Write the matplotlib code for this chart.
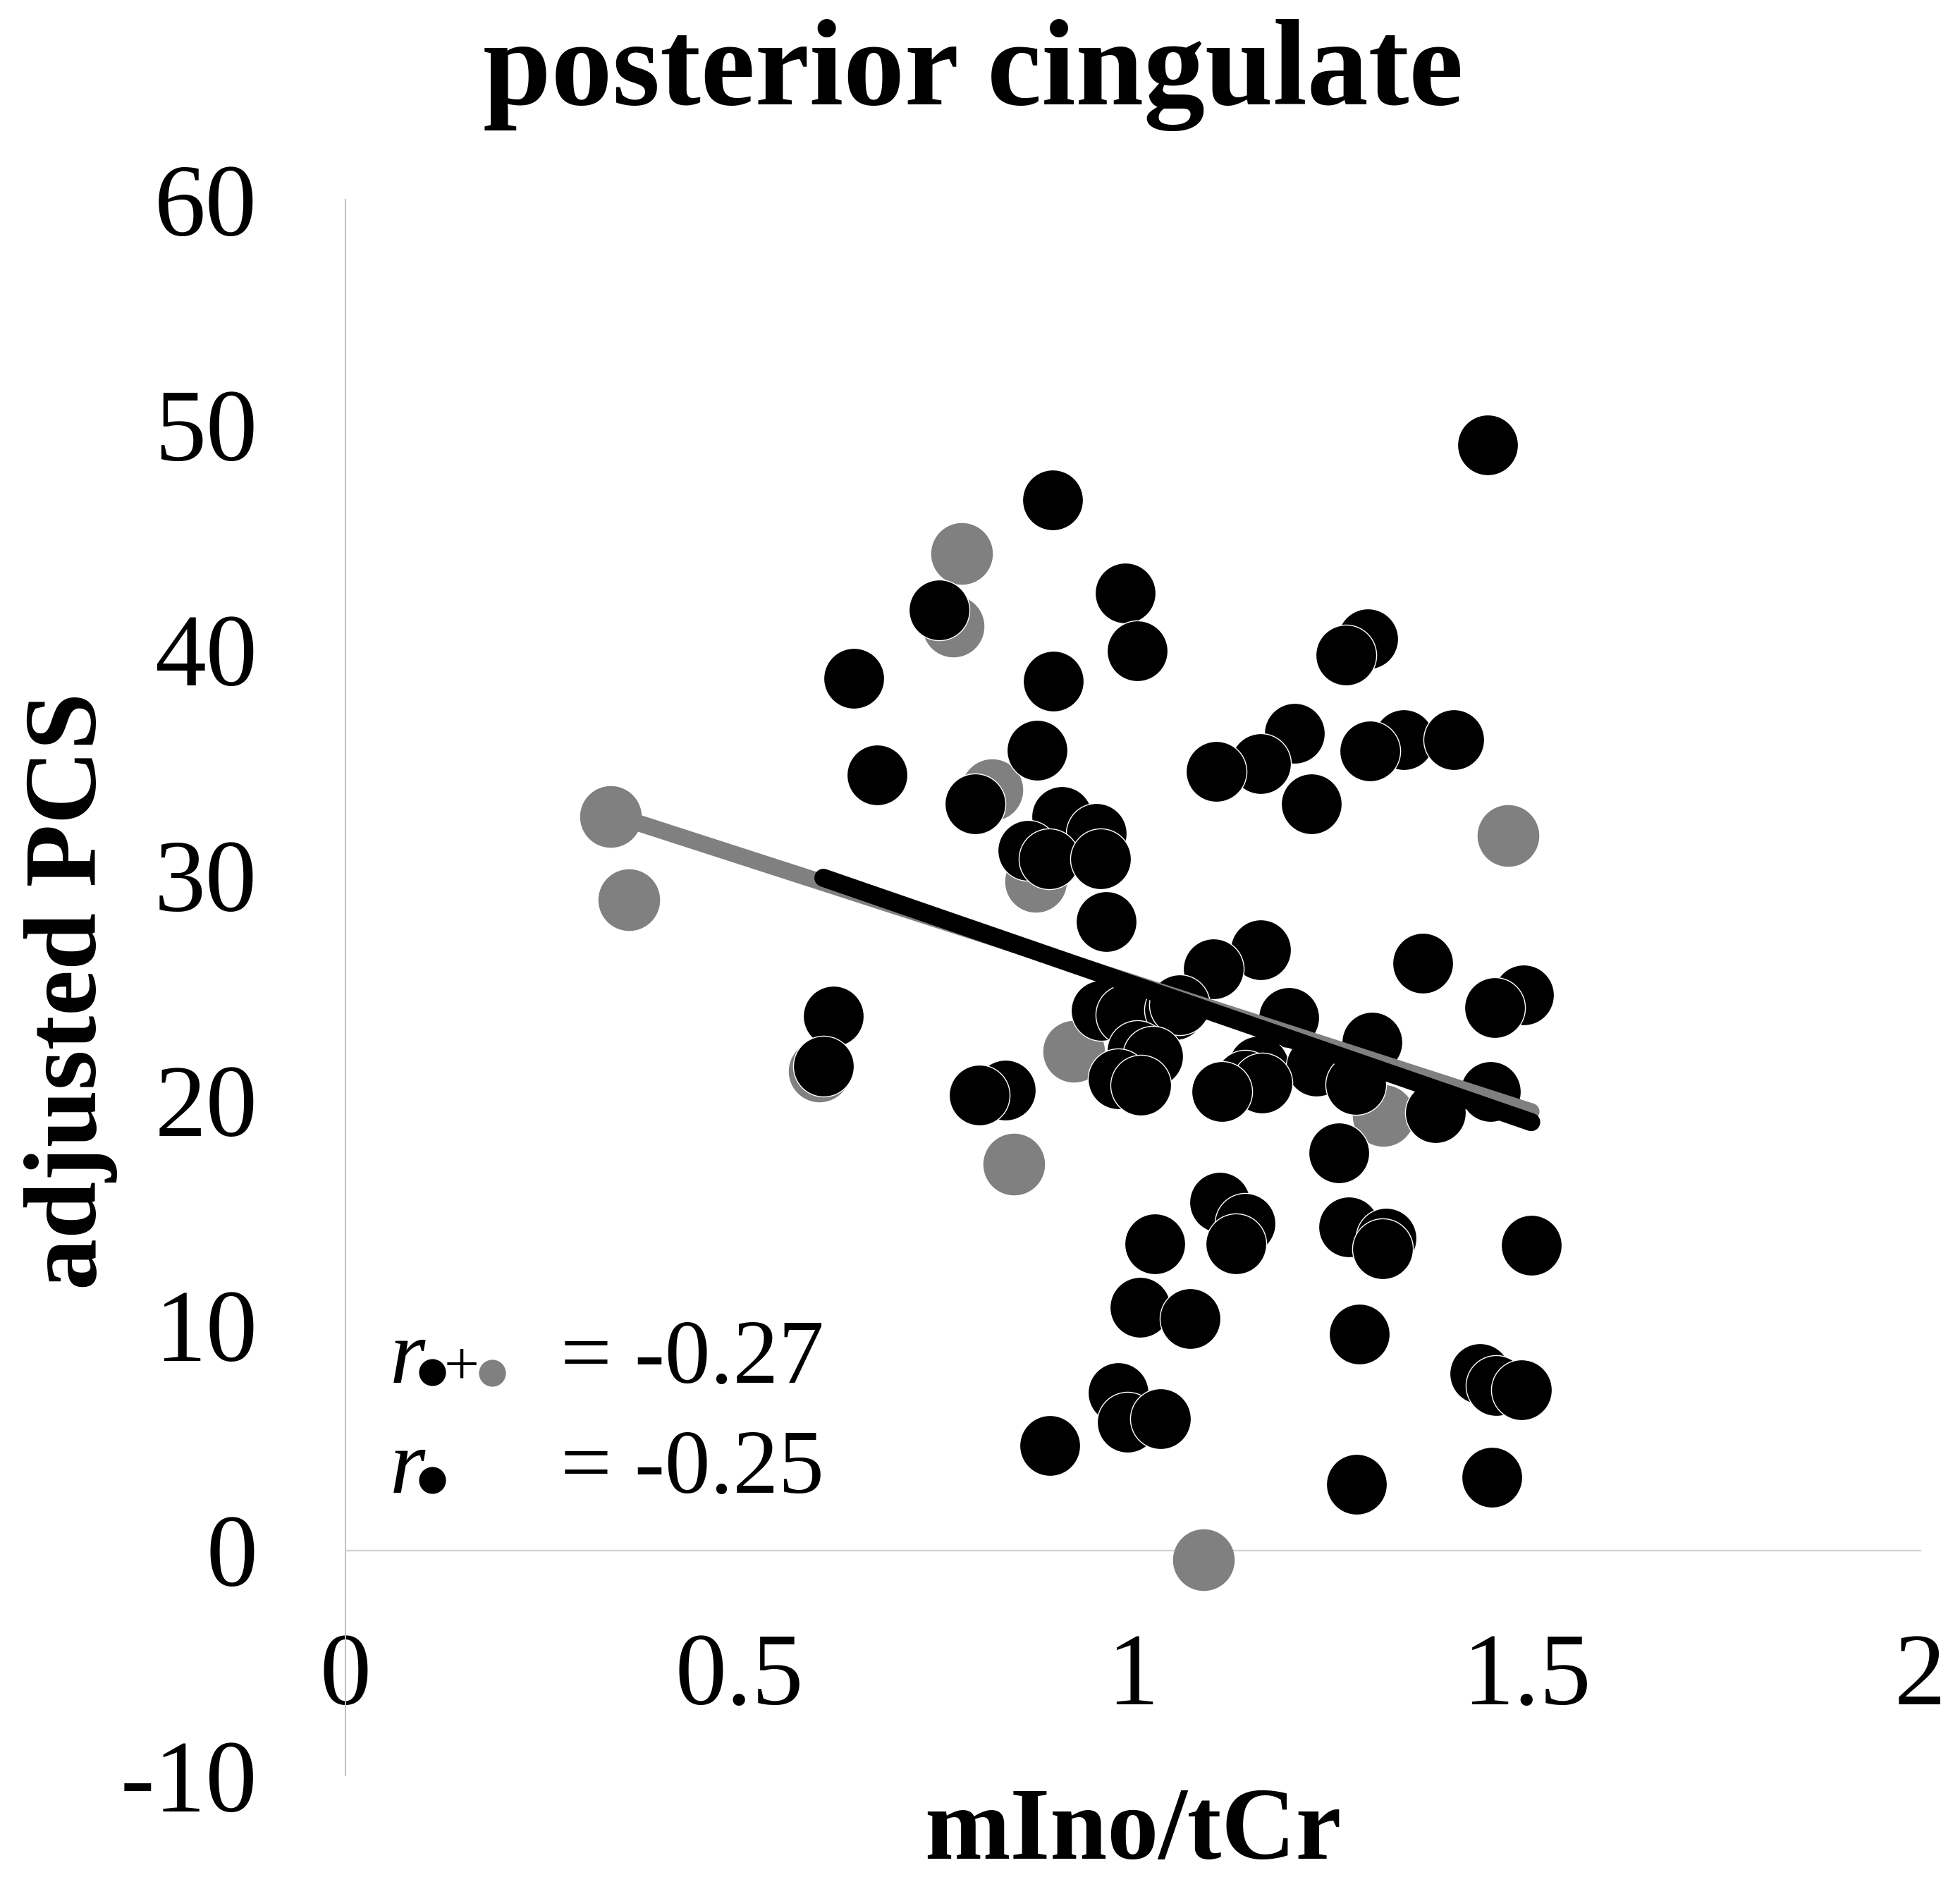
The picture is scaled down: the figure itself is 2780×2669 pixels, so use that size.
import matplotlib
matplotlib.use("Agg")
import matplotlib.pyplot as plt
from matplotlib.lines import Line2D
import numpy as np

# ---------------- data ----------------
black_x = [1.451, 0.898, 0.990, 0.754, 1.006, 1.298, 1.271, 0.646, 0.899, 0.878,
           1.205, 1.344, 1.408, 1.301, 1.162, 1.106, 0.675, 1.227, 0.800, 0.910,
           0.954, 0.867, 0.894, 0.959, 0.966, 1.162, 1.102, 1.368, 1.496, 1.460,
           0.620, 0.960, 0.991, 1.053, 1.059, 1.198, 1.304, 1.006, 1.025, 1.160,
           0.607, 1.233, 1.283, 1.143, 1.164, 0.981, 1.010, 0.838, 0.805, 1.113,
           1.454, 1.384, 1.262, 1.110, 1.143, 1.131, 1.274, 1.322, 1.317, 1.028,
           1.506, 1.009, 1.073, 1.288, 1.441, 1.461, 1.494, 0.981, 0.993, 1.035,
           0.895, 1.284, 1.456]
black_y = [49.11, 46.67, 42.53, 41.78, 39.94, 40.50, 39.78, 38.72, 38.61, 35.53,
           36.28, 36.02, 36.02, 35.52, 34.94, 34.61, 34.44, 33.17, 33.17, 32.61,
           31.83, 31.08, 30.72, 30.72, 27.94, 26.67, 25.83, 26.08, 24.67, 24.11,
           23.74, 23.97, 23.78, 24.00, 24.22, 23.67, 22.57, 22.19, 21.94, 21.50,
           21.50, 21.50, 20.69, 20.89, 20.75, 20.94, 20.67, 20.44, 20.22, 20.39,
           20.39, 19.44, 17.64, 15.46, 14.52, 13.61, 14.37, 13.87, 13.39, 13.61,
           13.56, 10.79, 10.29, 9.61, 7.86, 7.33, 7.12, 7.02, 5.69, 5.85,
           4.67, 2.94, 3.25]
gray_x = [0.783, 0.772, 0.821, 0.337, 1.477, 0.877, 0.360, 0.925, 0.602, 1.318,
          0.849, 1.090]
gray_y = [44.28, 41.06, 33.78, 32.60, 31.76, 29.72, 28.89, 22.15, 21.30, 19.33,
          17.17, -0.41]

fit_all = [36.51, -11.30]     # intercept, slope (black + gray points)
fit_black = [37.20, -12.07]   # intercept, slope (black points only)
r_all = "-0.27"
r_black = "-0.25"

xticks = [0, 0.5, 1, 1.5, 2]
xticklabels = ["0", "0.5", "1", "1.5", "2"]
yticks = [-10, 0, 10, 20, 30, 40, 50, 60]
yticklabels = ["-10", "0", "10", "20", "30", "40", "50", "60"]
title = "posterior cingulate"
xlabel = "mIno/tCr"
ylabel = "adjusted PCS"

# ---------------- figure ----------------
plt.rcParams["font.family"] = ["Liberation Serif", "DejaVu Serif"]
W, H = 2780, 2669
fig = plt.figure(figsize=(W / 100, H / 100), dpi=100)
ax = fig.add_axes([490 / W, 1 - 2518 / H, (2723.5 - 490) / W, (2518 - 283) / H])
ax.set_xlim(0, 2)
ax.set_ylim(-10, 60)

for s in ("top", "right"):
    ax.spines[s].set_visible(False)
ax.spines["left"].set_color("#BFBFBF")
ax.spines["left"].set_linewidth(1.4)
ax.spines["bottom"].set_position(("data", 0))
ax.spines["bottom"].set_color("#D0D0D0")
ax.spines["bottom"].set_linewidth(1.6)

ax.set_xticks(xticks)
ax.set_xticklabels(xticklabels)
ax.set_yticks(yticks)
ax.set_yticklabels(yticklabels)
ax.tick_params(axis="x", length=0, labelsize=105, pad=84)
ax.tick_params(axis="y", length=0, labelsize=105, pad=90)

# points
ax.scatter(gray_x, gray_y, s=63 ** 2, color="#808080", linewidths=0, zorder=3, clip_on=False)
ax.scatter(black_x, black_y, s=62 ** 2, color="black", edgecolors="white",
           linewidths=1.0, zorder=4, clip_on=False)

# trend lines spanning the data range of each group
all_x = np.array(black_x + gray_x)
xa = np.array([all_x.min(), all_x.max()])
ax.plot(xa, fit_all[0] + fit_all[1] * xa, color="#808080", lw=17,
        solid_capstyle="round", zorder=5)
bx = np.array([min(black_x), max(black_x)])
ax.plot(bx, fit_black[0] + fit_black[1] * bx, color="black", lw=18.5,
        solid_capstyle="round", zorder=6)

# titles
fig.text(1380 / W, 1 - 148 / H, title, ha="center", va="baseline",
         fontsize=125, fontweight="bold")
fig.text(1607 / W, 1 - 2636 / H, xlabel, ha="center", va="baseline",
         fontsize=105, fontweight="bold")
fig.text(167 / W, 1 - 1405 / H, ylabel, rotation=90, ha="right", va="center",
         fontsize=105, fontweight="bold")

# correlation annotation
def fx(px):
    return px / W

def fy(py):
    return 1 - py / H

def dot(px, py, color):
    fig.add_artist(Line2D([fx(px)], [fy(py)], marker="o", markersize=27.5,
                          color=color, markeredgewidth=0, linestyle="none",
                          transform=fig.transFigure))

fig.text(fx(553), fy(1961), "r", style="italic", fontsize=93, ha="left", va="baseline")
dot(612.5, 1946, "black")
fig.text(fx(655), fy(1963), "+", fontsize=64, ha="center", va="baseline")
dot(697.8, 1946.7, "#808080")
fig.text(fx(794.6), fy(1961), "= " + r_all, fontsize=93, ha="left", va="baseline")

fig.text(fx(553), fy(2117), "r", style="italic", fontsize=93, ha="left", va="baseline")
dot(612.5, 2099.3, "black")
fig.text(fx(794.6), fy(2117), "= " + r_black, fontsize=93, ha="left", va="baseline")

fig.savefig("out.png", dpi=100, facecolor="white")
